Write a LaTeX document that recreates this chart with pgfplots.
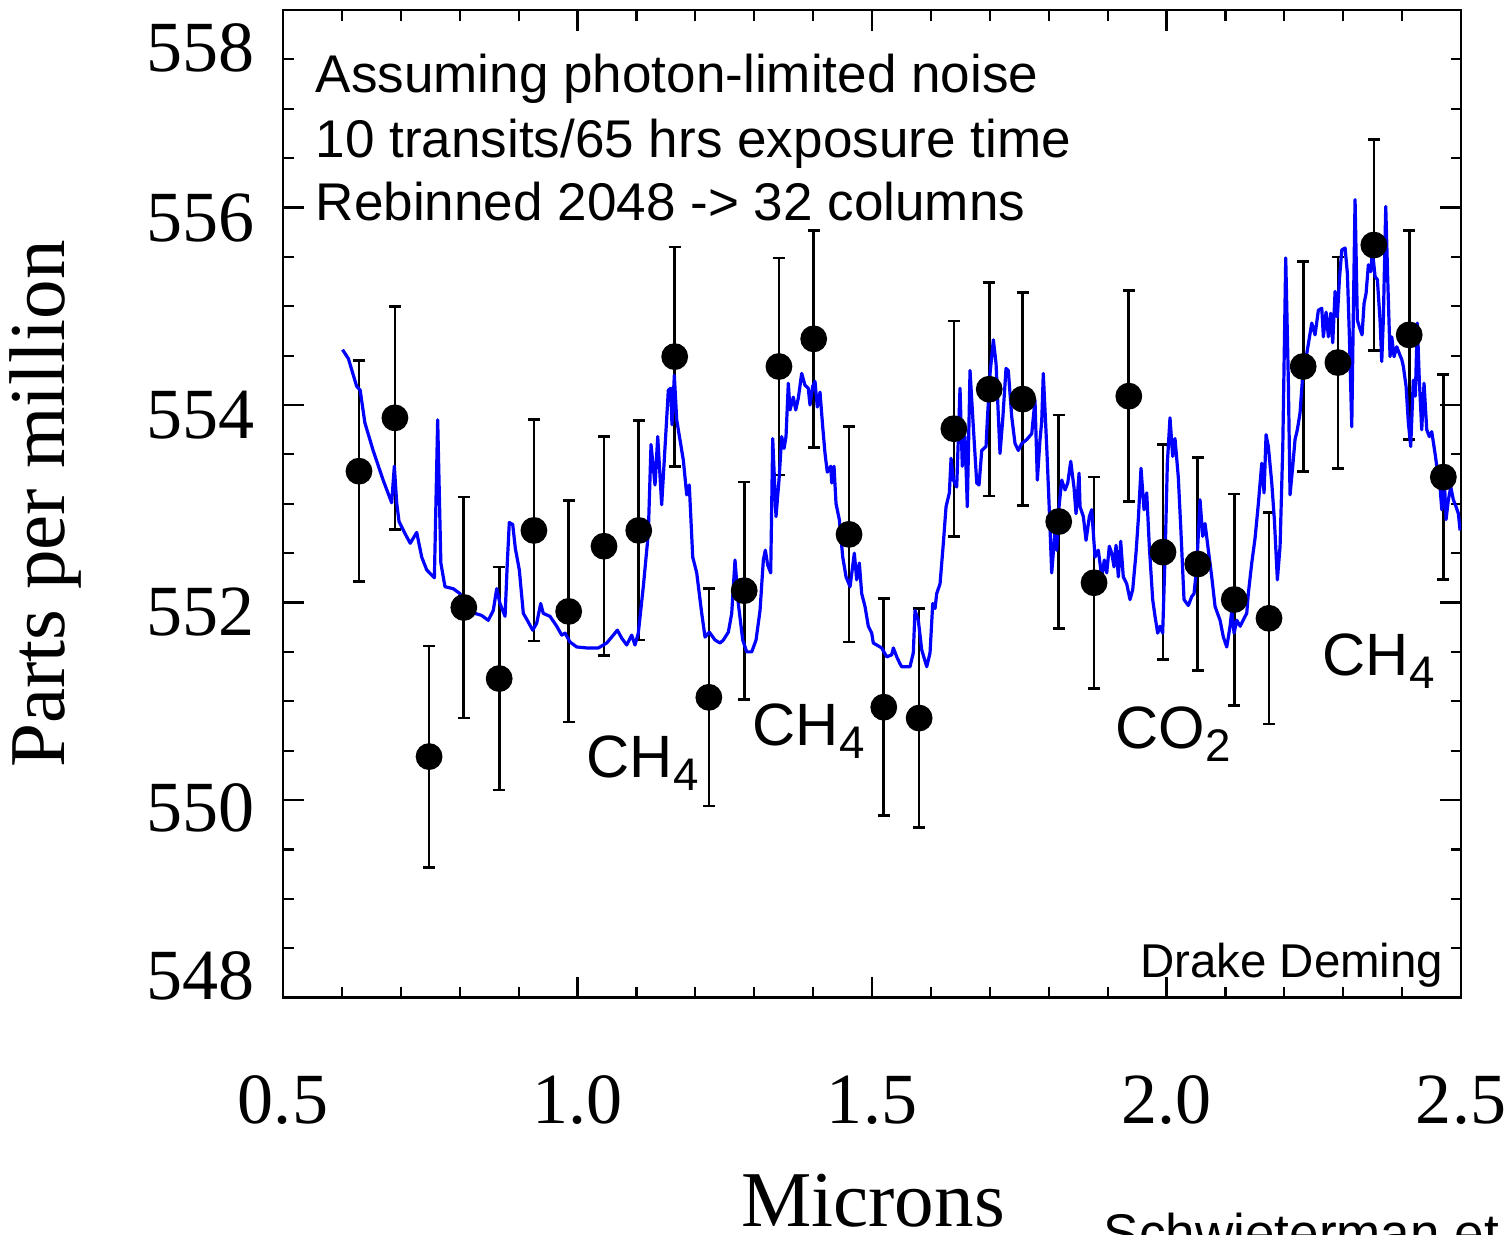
\documentclass[border=0pt]{standalone}
\usepackage{fontspec}
\setmainfont{Liberation Serif}
\newfontfamily\arial{Liberation Sans}
\usepackage{pgfplots}
\pgfplotsset{compat=1.18}
\usepackage{pgfplotstable}

\pgfplotstableread{
x y e
0.629 553.33 1.12
0.690 553.87 1.13
0.748 550.44 1.12
0.807 551.95 1.12
0.867 551.23 1.13
0.926 552.73 1.12
0.985 551.91 1.12
1.045 552.57 1.11
1.104 552.73 1.11
1.165 554.49 1.11
1.223 551.04 1.10
1.283 552.12 1.10
1.342 554.39 1.10
1.401 554.67 1.10
1.461 552.69 1.09
1.520 550.94 1.10
1.580 550.83 1.11
1.639 553.76 1.09
1.699 554.16 1.08
1.756 554.06 1.08
1.817 552.82 1.08
1.877 552.20 1.07
1.936 554.09 1.07
1.994 552.51 1.09
2.053 552.39 1.08
2.115 552.03 1.07
2.174 551.84 1.07
2.232 554.39 1.06
2.291 554.43 1.07
2.352 555.62 1.07
2.412 554.71 1.06
2.470 553.27 1.04
}\binned

\newcommand\yl[2]{\raisebox{#1}[\height][\depth]{#2}}
\newcommand\sub[1]{\raisebox{-1.3mm}{\fontsize{13}{13}\selectfont #1}}

\begin{document}
\begin{tikzpicture}
\useasboundingbox (0,0) rectangle (151.1mm,123.4mm);
\clip (0,0) rectangle (151.1mm,123.4mm);
\begin{axis}[
  at={(28.3mm,23.65mm)}, anchor=south west,
  scale only axis, width=117.8mm, height=98.75mm,
  xmin=0.5, xmax=2.5, ymin=548, ymax=558,
  xtick={0.5,1,1.5,2,2.5}, xticklabels={0.5,1.0,1.5,2.0,2.5},
  ytick={548,550,552,554,556,558},
  yticklabels={\yl{2.2mm}{548},\yl{-0.8mm}{550},\yl{-0.95mm}{552},\yl{-1mm}{554},\yl{-1.05mm}{556},\yl{-3.8mm}{558}},
  minor x tick num=4, minor y tick num=3,
  tick align=inside,
  major tick length=2.1mm, minor tick length=1.05mm,
  axis line style={line width=0.24mm},
  tick style={black, line width=0.22mm},
  xticklabel style={font=\fontsize{20.5}{20.5}\selectfont, inner sep=0pt, anchor=north, yshift=-7.75mm},
  yticklabel style={font=\fontsize{20.5}{20.5}\selectfont, inner sep=0pt, anchor=east, xshift=-2.8mm},
]
\addplot[only marks, mark=*, mark size=1.27mm, black,
  error bars/.cd, y dir=both, y explicit,
  error bar style={line width=0.27mm, black},
  error mark options={rotate=90, mark size=0.6mm, line width=0.27mm, black}]
  table[x=x, y=y, y error=e] {\binned};
\addplot[blue, line width=0.32mm, mark=none, line join=round] coordinates {
(0.601,554.56)(0.611,554.47)(0.625,554.19)(0.631,554.15)(0.639,553.82)(0.653,553.54)(0.670,553.24)(0.6845,553.01)(0.689,553.38)(0.693,553.01)(0.697,552.82)(0.707,552.70)(0.716,552.60)(0.727,552.71)(0.7355,552.46)(0.744,552.33)(0.757,552.25)(0.7626,553.85)(0.768,552.40)(0.775,552.16)(0.789,552.14)(0.8005,552.09)(0.809,551.96)(0.8175,551.96)(0.826,551.89)(0.837,551.87)(0.8485,551.82)(0.857,551.92)(0.8628,552.14)(0.8684,551.99)(0.877,551.86)(0.8808,552.40)(0.8842,552.81)(0.890,552.79)(0.8944,552.55)(0.9012,552.33)(0.908,551.89)(0.9148,551.82)(0.9239,551.72)(0.9307,551.79)(0.9375,551.99)(0.9419,551.89)(0.9533,551.86)(0.9647,551.76)(0.9732,551.67)(0.9788,551.69)(0.9873,551.60)(0.9986,551.55)(1.0156,551.54)(1.0353,551.54)(1.0496,551.59)(1.0608,551.67)(1.0676,551.72)(1.075,551.64)(1.0835,551.57)(1.092,551.67)(1.0976,551.57)(1.1032,551.69)(1.1117,552.16)(1.1202,552.70)(1.1248,553.60)(1.1316,553.19)(1.1362,553.68)(1.1429,552.99)(1.1542,554.15)(1.1582,554.17)(1.1604,553.80)(1.1644,554.30)(1.1684,553.85)(1.1797,553.44)(1.1854,553.09)(1.1898,553.19)(1.1956,552.46)(1.2024,552.30)(1.2109,551.89)(1.2165,551.65)(1.2238,551.70)(1.2335,551.62)(1.242,551.59)(1.2476,551.62)(1.2561,551.70)(1.2618,551.89)(1.2674,552.43)(1.273,551.99)(1.2805,551.62)(1.2873,551.50)(1.2958,551.50)(1.3031,551.62)(1.3099,551.92)(1.3155,552.43)(1.3189,552.53)(1.3229,552.38)(1.328,552.30)(1.3314,553.66)(1.337,552.87)(1.3421,553.24)(1.3467,553.68)(1.3506,553.56)(1.354,553.68)(1.3579,554.22)(1.3608,553.95)(1.3664,554.08)(1.3705,553.95)(1.3749,554.07)(1.3806,554.32)(1.3862,554.20)(1.3918,554.17)(1.3947,554.00)(1.3993,554.19)(1.4032,554.24)(1.4071,553.98)(1.4117,554.13)(1.4163,553.78)(1.4202,553.51)(1.4241,553.32)(1.4299,553.38)(1.4316,553.21)(1.4355,553.38)(1.4389,553.00)(1.4445,552.84)(1.4503,552.46)(1.4559,552.26)(1.4627,552.16)(1.47,552.50)(1.474,552.23)(1.4785,552.40)(1.4825,552.09)(1.4881,551.96)(1.4937,551.76)(1.4995,551.69)(1.5022,551.59)(1.508,551.57)(1.5165,551.54)(1.525,551.45)(1.5334,551.47)(1.5362,551.54)(1.542,551.45)(1.5475,551.38)(1.5504,551.35)(1.5645,551.35)(1.5701,551.49)(1.573,551.92)(1.5786,551.82)(1.5844,551.52)(1.5929,551.35)(1.5985,551.49)(1.6031,551.99)(1.607,551.94)(1.6098,552.09)(1.6155,552.19)(1.6211,552.60)(1.6257,552.97)(1.6313,553.11)(1.6342,553.46)(1.6381,553.24)(1.6438,553.17)(1.6494,554.17)(1.6533,553.38)(1.6579,553.68)(1.6618,552.97)(1.6664,554.35)(1.672,553.78)(1.6778,553.21)(1.6817,553.19)(1.6863,553.54)(1.6936,553.58)(1.6958,553.85)(1.7004,554.32)(1.706,554.66)(1.7106,554.42)(1.7173,553.51)(1.7219,553.85)(1.7275,554.37)(1.7314,554.35)(1.7372,553.88)(1.7428,553.61)(1.7484,553.54)(1.7542,553.61)(1.7627,553.65)(1.7712,553.71)(1.7767,554.05)(1.7807,553.24)(1.7852,553.65)(1.7881,553.83)(1.7908,554.32)(1.7966,553.58)(1.801,552.94)(1.8051,552.30)(1.8107,552.73)(1.8136,552.53)(1.8175,552.97)(1.8221,553.24)(1.8277,553.14)(1.8323,553.21)(1.8374,553.43)(1.843,553.16)(1.8464,552.90)(1.8515,553.31)(1.8532,552.97)(1.8588,552.87)(1.8634,552.63)(1.869,552.87)(1.873,552.94)(1.8786,552.46)(1.8842,552.53)(1.890,552.26)(1.8944,552.43)(1.8985,552.30)(1.9029,552.57)(1.907,552.50)(1.9109,552.36)(1.9143,552.58)(1.9182,552.26)(1.9222,552.62)(1.9266,552.26)(1.9324,552.19)(1.938,552.03)(1.9426,552.13)(1.9482,552.50)(1.9521,552.84)(1.9567,553.36)(1.9618,552.94)(1.9664,553.11)(1.9708,552.57)(1.9765,552.03)(1.9805,551.86)(1.985,551.69)(1.989,551.76)(1.9935,551.69)(1.998,552.57)(2.0014,553.41)(2.0059,553.87)(2.0105,553.48)(2.0144,553.66)(2.020,553.27)(2.0241,552.77)(2.0297,552.03)(2.037,551.97)(2.0428,552.06)(2.0467,552.09)(2.0513,552.36)(2.0569,553.04)(2.0615,552.67)(2.0654,552.80)(2.071,552.53)(2.0768,552.26)(2.0824,551.96)(2.0909,551.82)(2.0965,551.65)(2.1023,551.55)(2.1079,551.76)(2.1108,551.92)(2.1147,551.69)(2.1193,551.82)(2.1251,551.76)(2.1333,551.86)(2.1362,551.89)(2.1389,552.09)(2.1447,552.40)(2.1503,552.65)(2.1559,553.00)(2.1617,553.41)(2.1656,553.11)(2.169,553.70)(2.1729,553.58)(2.1787,553.21)(2.1831,552.84)(2.1882,552.23)(2.1928,552.57)(2.1974,553.58)(2.2024,555.49)(2.2068,554.25)(2.2097,553.09)(2.2143,553.38)(2.2182,553.65)(2.2221,553.75)(2.2267,553.92)(2.2323,554.39)(2.2381,554.52)(2.2466,554.83)(2.2522,554.71)(2.2578,554.96)(2.2636,554.98)(2.2663,554.69)(2.2709,554.94)(2.2748,554.69)(2.2788,554.93)(2.2822,554.63)(2.2862,555.15)(2.2901,554.89)(2.2935,555.27)(2.2976,555.57)(2.3032,555.59)(2.3071,555.33)(2.3105,554.69)(2.3145,553.78)(2.3172,554.93)(2.3201,556.08)(2.324,554.86)(2.3274,554.79)(2.332,554.71)(2.3354,555.03)(2.3388,555.13)(2.3427,555.42)(2.3468,555.35)(2.3495,555.57)(2.3541,555.30)(2.358,555.27)(2.3625,554.86)(2.3654,554.44)(2.3681,554.86)(2.3722,556.01)(2.3756,555.27)(2.3795,554.49)(2.3824,554.69)(2.3863,554.49)(2.3909,554.59)(2.3953,554.52)(2.3994,554.46)(2.4021,554.39)(2.4067,554.19)(2.4106,553.82)(2.4146,553.58)(2.419,554.25)(2.4224,554.09)(2.4258,554.83)(2.4292,554.25)(2.4333,553.75)(2.4372,554.22)(2.4418,553.75)(2.4462,553.68)(2.4503,553.73)(2.4559,553.51)(2.4598,553.34)(2.4644,553.17)(2.4673,552.94)(2.4712,553.31)(2.4746,552.84)(2.4785,553.04)(2.4826,553.17)(2.487,553.04)(2.4916,552.97)(2.4955,552.90)(2.4984,552.73)
};
\end{axis}
% axis titles
\node[rotate=90, font=\fontsize{22.5}{22.5}\selectfont, inner sep=0pt] at (4.5mm,73.0mm) {Parts per million};
\node[anchor=base, font=\fontsize{22.5}{22.5}\selectfont, inner sep=0pt] at (87.3mm,0.8mm) {Microns};
% annotations
\begin{scope}[every node/.style={anchor=base west, inner sep=0pt, font=\arial\fontsize{15.1}{15.1}\selectfont}]
\node at (31.5mm,114.2mm) {Assuming photon-limited noise};
\node at (31.5mm,107.7mm) {10 transits/65 hrs exposure time};
\node at (31.5mm,101.4mm) {Rebinned 2048 -> 32 columns};
\node at (110.3mm,-1.7mm) {Schwieterman et};
\end{scope}
\begin{scope}[every node/.style={anchor=base west, inner sep=0pt, font=\arial\fontsize{17}{17}\selectfont}]
\node at (58.6mm,45.7mm) {CH\sub{4}};
\node at (75.2mm,48.9mm) {CH\sub{4}};
\node at (111.5mm,48.6mm) {CO\sub{2}};
\node at (132.2mm,55.9mm) {CH\sub{4}};
\end{scope}
\node[anchor=base east, inner sep=0pt, font=\arial\fontsize{13.5}{13.5}\selectfont] at (144.4mm,25.7mm) {Drake Deming};
\end{tikzpicture}
\end{document}
